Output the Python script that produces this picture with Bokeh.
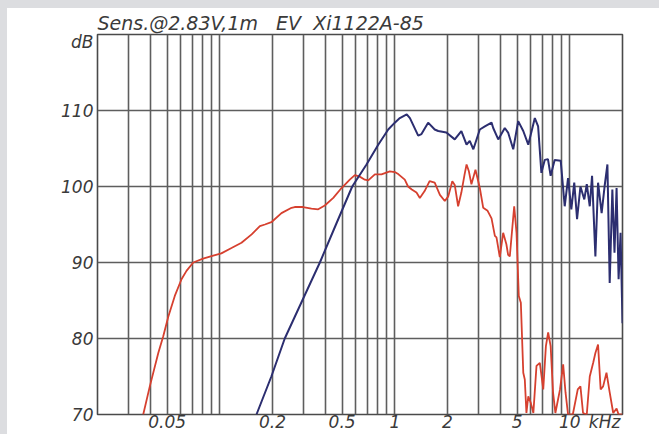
from bokeh.plotting import figure
from bokeh.models import FixedTicker, GlobalInlineStyleSheet
from bokeh.embed import file_html
from bokeh.resources import INLINE

# ---- data (kHz, dB) ----
red_f = [0.0365, 0.0398, 0.0445, 0.0475, 0.0508, 0.0553, 0.0604, 0.0645, 0.0705, 0.0802,
         0.0917, 0.102, 0.1166, 0.133, 0.152, 0.1694, 0.181, 0.197, 0.225, 0.257,
         0.268, 0.299, 0.334, 0.365, 0.398, 0.445, 0.496, 0.553, 0.591, 0.630,
         0.674, 0.705, 0.769, 0.839, 0.936, 1.0, 1.05, 1.14, 1.19, 1.25, 1.33,
         1.39, 1.48, 1.58, 1.69, 1.81, 1.93, 2.02, 2.13, 2.2, 2.3, 2.40, 2.50,
         2.57, 2.65, 2.74, 2.89, 3.06, 3.20, 3.39, 3.57, 3.73, 3.81, 3.98, 4.16,
         4.34, 4.44, 4.54, 4.81, 4.96, 5.11, 5.25, 5.42, 5.53, 5.65, 5.79, 5.99,
         6.19, 6.45, 6.74, 7.05, 7.3, 7.52, 7.77, 8.02, 8.27, 8.79, 9.16, 9.45,
         9.77, 10.4, 11.1, 11.5, 11.9, 12.5, 13.0, 13.6, 14.0, 14.5, 15.0, 15.5,
         16.2, 16.9, 17.7, 18.5, 19.0, 20.0]
red_db = [70.0, 73.7, 78.1, 80.3, 82.9, 85.6, 87.8, 88.9, 90.0, 90.5,
          90.9, 91.2, 91.9, 92.6, 93.7, 94.8, 95.0, 95.3, 96.5, 97.2,
          97.3, 97.3, 97.1, 97.0, 97.5, 98.5, 99.8, 100.9, 101.5, 101.3,
          100.9, 100.8, 101.6, 101.6, 102.0, 101.9, 101.6, 100.9, 100.0, 99.6, 99.2,
          98.5, 99.4, 100.7, 100.5, 98.9, 98.1, 98.7, 100.7, 100.2, 97.4, 99.2, 101.5,
          102.9, 102.0, 100.3, 102.2, 99.8, 97.2, 96.8, 95.8, 93.5, 93.3, 90.7, 93.9,
          92.4, 91.0, 90.8, 97.4, 93.9, 85.6, 84.7, 75.5, 74.6, 70.2, 72.4, 71.5,
          70.2, 76.4, 76.8, 73.3, 79.0, 80.8, 79.0, 72.9, 70.2, 73.3, 76.6, 72.9,
          70.0, 70.0, 73.3, 73.7, 70.2, 70.0, 75.0, 76.8, 78.1, 79.2, 73.3, 73.7,
          75.5, 72.9, 70.2, 70.8, 70.0, 70.0]

blue_f = [0.162, 0.197, 0.235, 0.296, 0.373, 0.461, 0.571, 0.689, 0.804, 0.917,
          1.0, 1.068, 1.17, 1.22, 1.36, 1.42, 1.55, 1.69, 1.77, 1.97, 2.2,
          2.40, 2.57, 2.68, 2.81, 3.06, 3.27, 3.57, 3.65, 3.9, 4.25, 4.44, 4.75,
          5.07, 5.42, 5.79, 6.31, 6.59, 6.88, 7.19, 7.5, 7.77, 8.19, 8.87, 9.35,
          9.77, 10.2, 10.6, 11.0, 11.5, 12.1, 12.5, 13.0, 13.4, 14.0, 14.5, 15.2,
          15.8, 16.4, 16.9, 17.5, 18.0, 18.5, 19.0, 19.5, 20.0]
blue_db = [70.0, 75.0, 80.0, 85.0, 90.0, 95.0, 100.0, 102.9, 105.5, 107.5,
           108.4, 109.0, 109.5, 109.0, 106.7, 106.9, 108.4, 107.5, 107.3, 107.1, 106.2,
           107.3, 105.5, 106.0, 104.9, 107.5, 107.9, 108.4, 107.7, 106.2, 107.7, 107.1, 104.9,
           108.6, 107.3, 105.5, 109.0, 107.9, 101.8, 103.5, 103.6, 101.4, 103.5, 103.4, 97.4,
           101.1, 97.0, 100.5, 95.7, 100.0, 98.3, 100.3, 97.4, 101.4, 90.8, 100.5, 96.5,
           100.0, 102.9, 87.3, 99.6, 91.3, 99.8, 87.8, 93.9, 82.0]

x_tick_values = [0.05, 0.2, 0.5, 1, 2, 5, 10, 15.8]
x_tick_labels = ["0.05", "0.2", "0.5", "1", "2", "5", "10", "kHz"]
x_grid_values = [0.03, 0.04, 0.05, 0.06, 0.07, 0.08, 0.09, 0.1,
                 0.2, 0.3, 0.4, 0.5, 0.6, 0.7, 0.8, 0.9, 1,
                 2, 3, 4, 5, 6, 7, 8, 9, 10]
y_tick_values = [70, 80, 90, 100, 110, 119]
y_tick_labels = ["70", "80", "90", "100", "110", "dB"]
y_grid_values = [80, 90, 100, 110]
title_text = "Sens.@2.83V,1m\u00a0\u00a0\u00a0EV\u00a0\u00a0Xi1122A-85"

FONT = "DejaVu Sans"
TXT = "#3a3a3a"
GRID = "#5e5e5e"

p = figure(width=659, height=434, x_axis_type="log",
           x_range=(0.02, 20), y_range=(70, 120),
           output_backend="svg", toolbar_location=None,
           min_border_left=97, min_border_right=37,
           min_border_top=34, min_border_bottom=19,
           background_fill_color="white", border_fill_color=None,
           outline_line_color="#4a4a4a", outline_line_width=1.6)

p.stylesheets = [GlobalInlineStyleSheet(css=(
    "html{background: linear-gradient(#dcdde0 8px, transparent 8px),"
    " linear-gradient(to right, #dcdde0 7px, #ffffff 7px);}"))]

p.title.text = title_text
p.title.text_font = FONT
p.title.text_font_size = "19px"
p.title.text_font_style = "italic"
p.title.text_color = TXT
p.title.align = "left"
p.title.standoff = 2

for ax, ticks, labels in ((p.xaxis[0], x_tick_values, x_tick_labels),
                          (p.yaxis[0], y_tick_values, y_tick_labels)):
    ax.ticker = FixedTicker(ticks=ticks)
    ax.major_label_overrides = dict(zip(ticks, labels))
    ax.major_tick_in = 0
    ax.major_tick_out = 0
    ax.minor_tick_in = 0
    ax.minor_tick_out = 0
    ax.axis_line_color = None
    ax.major_label_text_font = FONT
    ax.major_label_text_font_size = "17px"
    ax.major_label_text_font_style = "italic"
    ax.major_label_text_color = TXT
p.yaxis.major_label_standoff = 4
p.xaxis.major_label_standoff = -3

p.xgrid.ticker = FixedTicker(ticks=x_grid_values)
p.ygrid.ticker = FixedTicker(ticks=y_grid_values)
for g in (p.xgrid, p.ygrid):
    g.grid_line_color = GRID
    g.grid_line_width = 1.6

p.line(red_f, red_db, line_color="#d6402f", line_width=1.8)
p.line(blue_f, blue_db, line_color="#2c2e70", line_width=2.0)

open("out.html", "w").write(file_html(p, INLINE))
